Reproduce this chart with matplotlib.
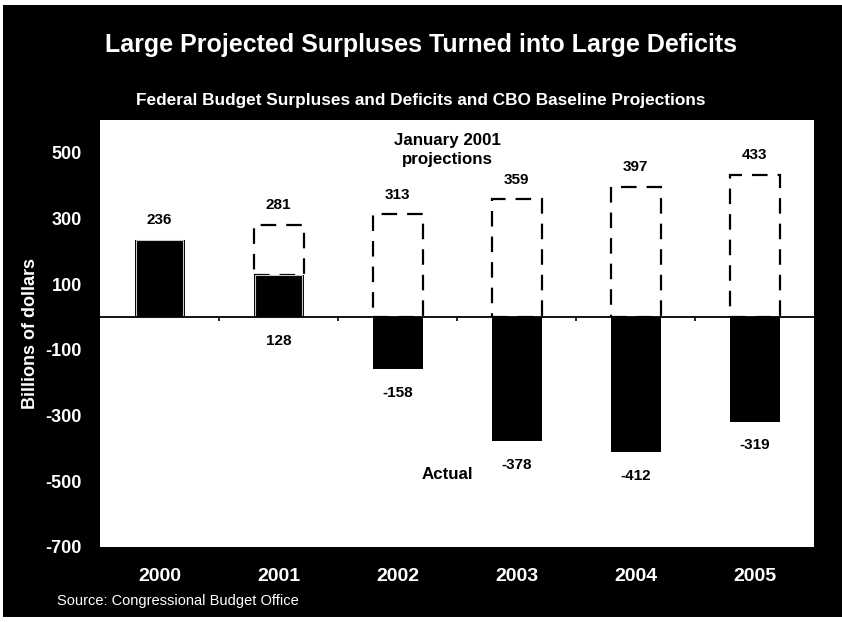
import numpy as np
import matplotlib.pyplot as plt
from matplotlib.patches import Rectangle

plt.rcParams['font.family'] = ['Liberation Sans', 'DejaVu Sans']
plt.rcParams['axes.unicode_minus'] = False

years = ['2000', '2001', '2002', '2003', '2004', '2005']
actual = np.array([236, 128, -158, -378, -412, -319])
projected = np.array([np.nan, 281, 313, 359, 397, 433])
yticks = [500, 300, 100, -100, -300, -500, -700]

fig = plt.figure(figsize=(8.42, 6.22), dpi=100, facecolor='white')
# black slide background with a thin white margin
fig.patches.append(Rectangle((0.004, 0.008), 0.996, 0.984, transform=fig.transFigure,
                             facecolor='black', edgecolor='none', zorder=-10))

ax = fig.add_axes([0.1188, 0.1206, 0.848, 0.6865])
ax.set_facecolor('white')
x = np.arange(len(years))
w = 0.42

# January 2001 projections as dashed outlines, stacked above any surplus
has_proj = ~np.isnan(projected)
base = np.maximum(actual, 0)
ax.bar(x[has_proj], projected[has_proj] - base[has_proj], w, bottom=base[has_proj],
       facecolor='none', edgecolor='black', linewidth=1.6,
       linestyle=(0, (7, 4.5)), zorder=2)

# actual surplus / deficit
ax.bar(x, actual, w, color='black', edgecolor='black', linewidth=0, zorder=3)
ax.bar(x[:2], actual[:2], w * 0.94, bottom=0, facecolor='none',
       edgecolor='#c8c8c8', linewidth=0.8, zorder=4)

ax.axhline(0, color='black', linewidth=1.3, zorder=5)
ax.vlines(x[:-1] + 0.5, -12, 0, color='black', linewidth=1.2, zorder=5)

# value labels
for i in x:
    if np.isnan(projected[i]):
        ax.annotate(str(actual[i]), (i, actual[i]), xytext=(0, 14), textcoords='offset points',
                    ha='center', va='center', fontsize=11, fontweight='bold')
    else:
        ax.annotate(str(int(projected[i])), (i, projected[i]), xytext=(0, 14),
                    textcoords='offset points', ha='center', va='center',
                    fontsize=11, fontweight='bold')
        ax.annotate(str(actual[i]), (i, min(actual[i], 0)), xytext=(0, -17),
                    textcoords='offset points', ha='center', va='center',
                    fontsize=11, fontweight='bold')

ax.text(2.42, 508, 'January 2001\nprojections', ha='center', va='center',
        fontsize=12.2, fontweight='bold', linespacing=1.3)
ax.text(2.42, -478, 'Actual', ha='center', va='center', fontsize=12.2, fontweight='bold')

ax.set_xlim(-0.5, 5.5)
ax.set_ylim(-700, 600)
ax.set_xticks(x)
ax.set_xticklabels(years)
ax.set_yticks(yticks)
ax.tick_params(axis='x', length=0, pad=15, labelsize=14, labelcolor='white')
ax.tick_params(axis='y', length=0, pad=13, labelsize=13, labelcolor='white')
for lab in ax.get_xticklabels() + ax.get_yticklabels():
    lab.set_fontweight('bold')
for s in ax.spines.values():
    s.set_visible(False)

ax.set_ylabel('Billions of dollars', color='white', fontsize=13, fontweight='bold', labelpad=5)

fig.text(0.5, 0.927, 'Large Projected Surpluses Turned into Large Deficits', ha='center', va='center',
         color='white', fontsize=18, fontweight='bold')
fig.text(0.5, 0.838, 'Federal Budget Surpluses and Deficits and CBO Baseline Projections',
         ha='center', va='center', color='white', fontsize=12.4, fontweight='bold')
fig.text(0.068, 0.034, 'Source: Congressional Budget Office', ha='left', va='center',
         color='white', fontsize=10.5)

fig.savefig('out.png', dpi=100, facecolor=fig.get_facecolor())
